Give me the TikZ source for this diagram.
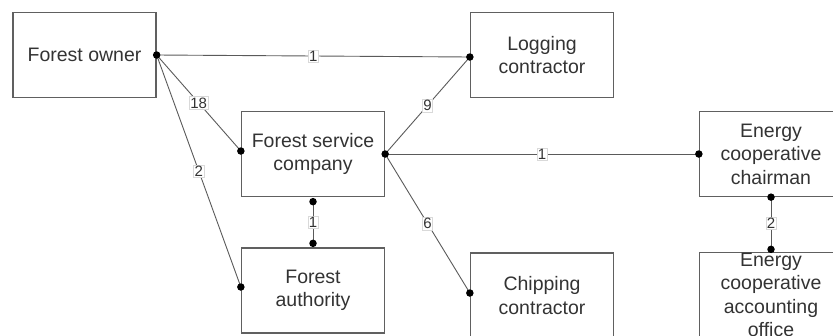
\documentclass[tikz,border=0pt]{standalone}
\usepackage{fontspec}
\setmainfont{Liberation Sans}
\usetikzlibrary{calc}
\definecolor{ink}{HTML}{333333}
\definecolor{edge}{HTML}{5A5A5A}
\definecolor{frame}{HTML}{606060}
\tikzset{
  actor/.style={draw=frame, line width=1.3pt, minimum width=143pt, minimum height=85pt,
    inner sep=0pt, align=center, text=ink, font=\fontsize{19.5}{23.5}\selectfont},
  plaintext/.style={inner sep=0pt, align=center, text=ink, font=\fontsize{19.5}{23.5}\selectfont},
  tie/.style={draw=edge, line width=0.9pt},
  count/.style={fill=white, draw=gray!30, line width=0.4pt, inner sep=1pt, text=ink,
    font=\fontsize{15}{16}\selectfont},
  endpoint/.style={circle, fill=black, inner sep=0pt, minimum size=7.5pt}
}
\begin{document}
\begin{tikzpicture}[x=1pt,y=-1pt]
\useasboundingbox (0,0) rectangle (833,335);

% actors
\node[actor] (owner) at (84.5,55) {Forest owner};
\node[actor] (logging) at (542,55) {Logging\\contractor};
\node[actor] (fsc) at (313,154) {Forest service\\company};
\node[actor] (chair) at (771,154) {Energy\\cooperative\\chairman};
\node[actor] (auth) at (313,290.5) {Forest\\authority};
\node[actor] (chip) at (542,295.5) {Chipping\\contractor};
\node[actor] (acct) at (771,295) {};
\node[plaintext] (accttext) at (771,295) {Energy\\cooperative\\accounting\\office};

% connector end points
\coordinate (pOwner) at (owner.east);
\coordinate (pLogW) at ($(logging.west)+(0,2)$);
\coordinate (pFscW) at ($(fsc.west)+(0,-3)$);
\coordinate (pFscE) at (fsc.east);
\coordinate (pFscS) at ($(fsc.south)+(0,4.5)$);
\coordinate (pAuthN) at ($(auth.north)+(0,-4)$);
\coordinate (pAuthW) at ($(auth.west)+(0,-3.5)$);
\coordinate (pChipW) at ($(chip.west)+(0,-2.5)$);
\coordinate (pChairW) at (chair.west);
\coordinate (pChairS) at (chair.south);
\coordinate (pAcctN) at ($(acct.north)+(0,-2.5)$);

% connectors with counts
\draw[tie] (pOwner) -- node[count, pos=0.5] {1} (pLogW);
\draw[tie] (pOwner) -- node[count, pos=0.5] {18} (pFscW);
\draw[tie] (pOwner) -- node[count, pos=0.5] {2} (pAuthW);
\draw[tie] (pFscE) -- node[count, pos=0.5] {9} (pLogW);
\draw[tie] (pFscE) -- node[count, pos=0.5] {1} (pChairW);
\draw[tie] (pFscE) -- node[count, pos=0.5] {6} (pChipW);
\draw[tie] (pFscS) -- node[count, pos=0.5] {1} (pAuthN);
\draw[tie] (pChairS) -- node[count, pos=0.5] {2} (pAcctN);

% end dots
\foreach \p in {pOwner,pLogW,pFscW,pFscE,pFscS,pAuthN,pAuthW,pChipW,pChairW,pChairS,pAcctN}
  \node[endpoint] at (\p) {};
\end{tikzpicture}
\end{document}
